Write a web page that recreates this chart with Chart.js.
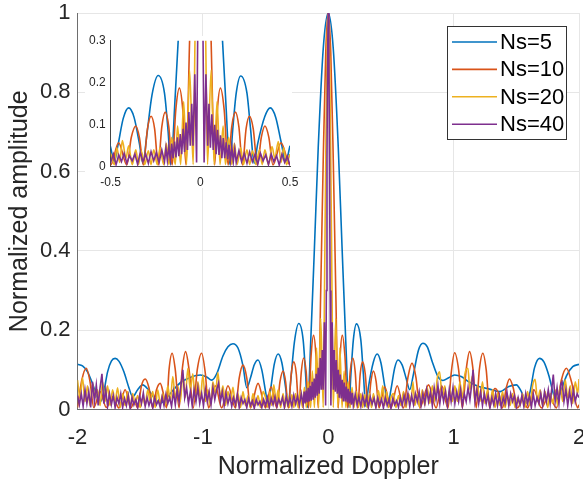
<!DOCTYPE html>
<html>
<head>
<meta charset="utf-8">
<script src="https://cdn.jsdelivr.net/npm/chart.js@4/dist/chart.umd.min.js"></script>
<style>
  body { margin: 0; background: #fff; }
  #wrap { position: relative; width: 583px; height: 487px; }
  #main { position: absolute; left: 0; top: 0; }
  #inset { position: absolute; left: 85px; top: 28px; }
</style>
</head>
<body>
<div id="wrap">
  <canvas id="main" width="583" height="487"></canvas>
  <canvas id="inset" width="222" height="160"></canvas>
</div>
<script>
// profiles, [normalized doppler, normalized amplitude]
const ns5 = [
  [-2.00,.114],[-1.96,.110],[-1.92,.095],[-1.88,.065],[-1.84,.030],[-1.815,.020],[-1.79,.045],[-1.76,.095],
  [-1.73,.122],[-1.70,.129],[-1.67,.122],[-1.63,.095],[-1.59,.055],[-1.56,.032],[-1.52,.050],[-1.48,.062],
  [-1.44,.052],[-1.39,.030],[-1.34,.016],[-1.30,.025],[-1.24,.048],[-1.17,.070],[-1.10,.081],[-1.02,.087],
  [-0.97,.082],[-0.93,.074],[-0.89,.090],[-0.84,.135],[-0.80,.158],[-0.76,.166],[-0.72,.155],[-0.68,.110],
  [-0.65,.055],[-0.62,.080],[-0.59,.113],[-0.56,.125],[-0.53,.100],[-0.50,.045],[-0.48,.012],[-0.46,.050],
  [-0.43,.115],[-0.40,.140],[-0.37,.118],[-0.34,.055],[-0.32,.008],[-0.30,.070],[-0.27,.170],[-0.235,.217],
  [-0.20,.175],[-0.18,.085],[-0.165,.005],[-0.14,.17],[-0.11,.41],[-0.08,.66],[-0.04,.91],[0,1],
  [0.04,.91],[0.08,.66],[0.11,.41],[0.14,.17],[0.165,.005],[0.18,.085],[0.20,.175],[0.225,.216],
  [0.26,.175],[0.28,.090],[0.30,.008],[0.32,.055],[0.36,.120],[0.39,.140],[0.42,.118],[0.45,.060],
  [0.476,.012],[0.50,.050],[0.53,.105],[0.556,.125],[0.59,.112],[0.62,.080],[0.65,.050],[0.68,.090],
  [0.72,.150],[0.755,.167],[0.79,.158],[0.83,.120],[0.875,.083],[0.915,.073],[0.96,.080],[1.008,.087],
  [1.06,.083],[1.12,.070],[1.20,.058],[1.28,.052],[1.37,.045],[1.44,.058],[1.50,.062],[1.54,.045],
  [1.58,.016],[1.61,.045],[1.645,.105],[1.685,.129],[1.72,.120],[1.76,.085],[1.80,.035],[1.82,.025],
  [1.86,.050],[1.90,.085],[1.95,.108],[2.00,.114]
];
const ns10 = [
  [-2.00,.005],[-1.965,.075],[-1.93,.104],[-1.90,.070],[-1.87,.005],[-1.82,.045],[-1.77,.005],[-1.72,.032],
  [-1.67,.004],[-1.62,.050],[-1.575,.004],[-1.545,.020],[-1.52,.004],[-1.49,.060],[-1.46,.077],[-1.43,.055],
  [-1.40,.004],[-1.37,.050],[-1.34,.066],[-1.315,.040],[-1.29,.004],[-1.27,.100],[-1.245,.142],[-1.22,.100],
  [-1.19,.004],[-1.165,.100],[-1.138,.146],[-1.11,.100],[-1.077,.004],[-1.045,.100],[-1.01,.142],[-0.98,.090],
  [-0.955,.004],[-0.90,.060],[-0.85,.004],[-0.80,.060],[-0.74,.004],[-0.71,.080],[-0.68,.112],[-0.65,.080],
  [-0.62,.004],[-0.56,.066],[-0.50,.004],[-0.456,.057],[-0.41,.004],[-0.385,.070],[-0.36,.097],[-0.34,.070],
  [-0.318,.004],[-0.295,.090],[-0.275,.120],[-0.255,.090],[-0.235,.004],[-0.215,.095],[-0.196,.130],[-0.176,.095],
  [-0.157,.004],[-0.137,.135],[-0.117,.187],[-0.098,.135],[-0.08,.004],[-0.06,.30],[-0.04,.63],[-0.02,.90],[0,1],
  [0.02,.90],[0.04,.63],[0.06,.30],[0.08,.004],[0.095,.135],[0.112,.187],[0.133,.135],[0.155,.004],
  [0.175,.095],[0.196,.130],[0.215,.095],[0.235,.004],[0.255,.090],[0.274,.120],[0.295,.090],[0.318,.004],
  [0.34,.070],[0.36,.097],[0.382,.070],[0.405,.004],[0.45,.057],[0.50,.004],[0.55,.060],[0.60,.004],
  [0.635,.080],[0.668,.117],[0.70,.080],[0.73,.004],[0.80,.062],[0.86,.004],[0.905,.060],[0.955,.004],
  [0.98,.090],[1.008,.143],[1.04,.100],[1.07,.004],[1.10,.100],[1.127,.146],[1.155,.100],[1.18,.004],
  [1.205,.100],[1.233,.142],[1.26,.100],[1.287,.004],[1.31,.040],[1.33,.053],[1.36,.040],[1.39,.004],
  [1.42,.055],[1.446,.077],[1.475,.055],[1.51,.004],[1.55,.025],[1.59,.004],[1.64,.050],[1.70,.004],
  [1.76,.035],[1.82,.004],[1.86,.075],[1.90,.104],[1.94,.070],[1.99,.004],[2.00,.012]
];
const ns20 = [
  [-2.00,.074],[-1.98,.030],[-1.96,.080],[-1.94,.020],[-1.92,.060],[-1.90,.010],[-1.88,.065],[-1.86,.030],
  [-1.84,.050],[-1.82,.010],[-1.80,.070],[-1.78,.020],[-1.76,.060],[-1.74,.010],[-1.72,.050],[-1.70,.020],
  [-1.68,.055],[-1.66,.005],[-1.64,.040],[-1.62,.010],[-1.60,.045],[-1.58,.005],[-1.56,.040],[-1.54,.015],
  [-1.52,.035],[-1.50,.005],[-1.48,.030],[-1.46,.010],[-1.44,.050],[-1.42,.020],[-1.40,.045],[-1.38,.005],
  [-1.36,.050],[-1.34,.015],[-1.32,.040],[-1.30,.010],[-1.28,.060],[-1.26,.020],[-1.24,.083],[-1.22,.030],
  [-1.20,.060],[-1.18,.020],[-1.16,.090],[-1.14,.030],[-1.12,.104],[-1.10,.050],[-1.08,.090],[-1.06,.020],
  [-1.04,.070],[-1.02,.030],[-1.00,.087],[-0.98,.020],[-0.96,.050],[-0.94,.010],[-0.92,.070],[-0.90,.040],
  [-0.88,.093],[-0.86,.030],[-0.84,.060],[-0.82,.010],[-0.80,.045],[-0.78,.020],[-0.76,.056],[-0.74,.010],
  [-0.72,.040],[-0.70,.005],[-0.68,.045],[-0.66,.010],[-0.64,.035],[-0.62,.005],[-0.60,.040],[-0.58,.010],
  [-0.56,.035],[-0.54,.005],[-0.52,.045],[-0.50,.030],[-0.48,.005],[-0.465,.045],[-0.45,.010],[-0.435,.062],
  [-0.415,.020],[-0.40,.050],[-0.38,.005],[-0.36,.040],[-0.345,.005],[-0.33,.038],[-0.31,.005],[-0.29,.038],
  [-0.275,.005],[-0.26,.040],[-0.24,.005],[-0.225,.045],[-0.205,.005],[-0.19,.056],[-0.175,.005],[-0.16,.070],
  [-0.14,.005],[-0.127,.097],[-0.11,.005],[-0.093,.155],[-0.077,.005],[-0.06,.230],[-0.04,.005],[-0.03,.30],
  [-0.02,.63],[-0.01,.90],[0,1],
  [0.01,.90],[0.02,.63],[0.03,.30],[0.04,.005],[0.06,.230],[0.077,.005],[0.093,.155],[0.11,.005],
  [0.127,.097],[0.14,.005],[0.158,.070],[0.175,.005],[0.19,.056],[0.205,.005],[0.225,.045],[0.24,.005],
  [0.26,.040],[0.275,.005],[0.29,.038],[0.31,.005],[0.33,.040],[0.345,.005],[0.36,.040],[0.38,.005],
  [0.40,.048],[0.415,.020],[0.435,.060],[0.45,.010],[0.465,.045],[0.48,.005],[0.50,.030],[0.52,.040],
  [0.54,.005],[0.56,.035],[0.58,.010],[0.60,.045],[0.62,.005],[0.64,.040],[0.66,.020],[0.676,.070],
  [0.69,.010],[0.71,.040],[0.73,.005],[0.75,.050],[0.77,.010],[0.79,.055],[0.81,.015],[0.83,.060],
  [0.85,.020],[0.87,.080],[0.888,.095],[0.91,.030],[0.93,.060],[0.95,.010],[0.97,.050],[0.99,.020],
  [1.01,.060],[1.03,.020],[1.05,.070],[1.07,.030],[1.09,.090],[1.114,.104],[1.13,.050],[1.15,.085],
  [1.17,.020],[1.19,.060],[1.21,.020],[1.23,.070],[1.25,.015],[1.27,.050],[1.29,.010],[1.31,.050],
  [1.33,.005],[1.35,.040],[1.37,.010],[1.39,.045],[1.41,.005],[1.43,.035],[1.45,.010],[1.47,.040],
  [1.49,.005],[1.51,.030],[1.53,.010],[1.55,.040],[1.57,.005],[1.59,.045],[1.61,.010],[1.63,.060],
  [1.65,.076],[1.67,.020],[1.69,.050],[1.71,.010],[1.73,.045],[1.75,.005],[1.77,.040],[1.79,.015],
  [1.81,.050],[1.83,.010],[1.85,.060],[1.87,.020],[1.89,.075],[1.91,.030],[1.93,.060],[1.95,.015],
  [1.97,.070],[1.99,.040],[2.00,.077]
];
const ns40 = [
  [-2.000,.035],[-1.985,.012],[-1.970,.040],[-1.955,.008],[-1.940,.050],[-1.925,.015],[-1.910,.045],[-1.895,.005],
  [-1.880,.070],[-1.865,.020],[-1.850,.062],[-1.835,.010],[-1.820,.055],[-1.805,.090],[-1.790,.015],[-1.775,.050],
  [-1.760,.008],[-1.745,.040],[-1.730,.012],[-1.715,.035],[-1.700,.005],[-1.685,.030],[-1.670,.015],[-1.655,.040],
  [-1.640,.005],[-1.625,.028],[-1.610,.010],[-1.595,.035],[-1.580,.002],[-1.565,.030],[-1.550,.012],[-1.535,.025],
  [-1.520,.005],[-1.505,.035],[-1.490,.015],[-1.475,.042],[-1.460,.008],[-1.445,.030],[-1.430,.010],[-1.415,.025],
  [-1.400,.004],[-1.385,.030],[-1.370,.012],[-1.355,.022],[-1.340,.005],[-1.325,.032],[-1.310,.010],[-1.295,.038],
  [-1.280,.015],[-1.265,.030],[-1.250,.008],[-1.235,.045],[-1.220,.012],[-1.205,.050],[-1.190,.020],[-1.175,.060],
  [-1.160,.100],[-1.145,.030],[-1.130,.055],[-1.115,.015],[-1.100,.045],[-1.085,.010],[-1.070,.050],[-1.055,.020],
  [-1.040,.055],[-1.025,.015],[-1.010,.040],[-0.995,.010],[-0.980,.050],[-0.965,.020],[-0.950,.045],[-0.935,.012],
  [-0.920,.055],[-0.905,.025],[-0.890,.050],[-0.875,.067],[-0.860,.020],[-0.845,.045],[-0.830,.010],[-0.815,.040],
  [-0.800,.015],[-0.785,.035],[-0.770,.008],[-0.755,.030],[-0.740,.012],[-0.725,.038],[-0.710,.005],[-0.695,.030],
  [-0.680,.015],[-0.665,.025],[-0.650,.005],[-0.635,.028],[-0.620,.010],[-0.605,.022],[-0.590,.003],[-0.575,.026],
  [-0.560,.012],[-0.545,.020],[-0.530,.005],[-0.515,.025],[-0.500,.010],[-0.485,.030],[-0.470,.005],[-0.455,.028],
  [-0.440,.012],[-0.425,.032],[-0.410,.008],[-0.395,.026],[-0.380,.014],[-0.365,.030],[-0.350,.006],[-0.335,.034],
  [-0.320,.012],[-0.305,.030],[-0.290,.008],[-0.275,.036],[-0.260,.014],[-0.245,.034],[-0.230,.010],[-0.215,.040],
  [-0.200,.012],[-0.192,.045],[-0.184,.015],[-0.176,.048],[-0.168,.018],[-0.160,.055],[-0.152,.020],[-0.144,.060],
  [-0.136,.022],[-0.128,.070],[-0.120,.025],[-0.112,.078],[-0.104,.030],[-0.096,.090],[-0.088,.035],[-0.080,.105],
  [-0.072,.040],[-0.064,.130],[-0.056,.050],[-0.048,.150],[-0.041,.050],[-0.031,.220],[-0.021,.010],[-0.015,.30],
  [-0.010,.63],[-0.005,.90],[0,1],
  [0.005,.90],[0.010,.63],[0.015,.30],[0.021,.010],[0.031,.220],[0.041,.050],[0.048,.150],[0.056,.045],
  [0.064,.125],[0.072,.040],[0.080,.100],[0.088,.030],[0.096,.088],[0.104,.028],[0.112,.075],[0.120,.020],
  [0.128,.068],[0.136,.020],[0.144,.058],[0.152,.018],[0.160,.052],[0.168,.015],[0.176,.046],[0.184,.012],
  [0.192,.042],[0.200,.010],[0.215,.038],[0.230,.012],[0.245,.032],[0.260,.008],[0.275,.035],[0.290,.012],
  [0.305,.030],[0.320,.006],[0.335,.032],[0.350,.014],[0.365,.028],[0.380,.005],[0.395,.030],[0.410,.012],
  [0.425,.026],[0.440,.004],[0.455,.030],[0.470,.010],[0.485,.025],[0.500,.003],[0.515,.028],[0.530,.012],
  [0.545,.022],[0.560,.006],[0.575,.030],[0.590,.010],[0.605,.035],[0.620,.015],[0.635,.040],[0.650,.008],
  [0.665,.035],[0.680,.012],[0.695,.040],[0.710,.020],[0.725,.045],[0.740,.010],[0.755,.040],[0.770,.015],
  [0.785,.050],[0.800,.020],[0.815,.045],[0.830,.010],[0.845,.055],[0.860,.025],[0.875,.060],[0.890,.015],
  [0.905,.050],[0.920,.020],[0.935,.045],[0.950,.010],[0.965,.050],[0.980,.020],[0.995,.055],[1.010,.015],
  [1.025,.045],[1.040,.020],[1.055,.050],[1.070,.010],[1.085,.040],[1.100,.020],[1.115,.055],[1.130,.025],
  [1.145,.065],[1.155,.100],[1.170,.020],[1.185,.050],[1.200,.015],[1.215,.045],[1.230,.010],[1.245,.040],
  [1.260,.015],[1.275,.035],[1.290,.005],[1.305,.030],[1.320,.012],[1.335,.040],[1.350,.010],[1.365,.035],
  [1.380,.005],[1.395,.030],[1.410,.015],[1.425,.045],[1.440,.010],[1.455,.040],[1.470,.020],[1.485,.035],
  [1.500,.005],[1.515,.030],[1.530,.012],[1.545,.035],[1.560,.008],[1.575,.040],[1.590,.015],[1.605,.035],
  [1.620,.005],[1.635,.040],[1.650,.010],[1.665,.030],[1.680,.015],[1.695,.040],[1.710,.010],[1.725,.045],
  [1.740,.020],[1.755,.050],[1.770,.015],[1.785,.060],[1.795,.088],[1.810,.020],[1.825,.055],[1.840,.015],
  [1.855,.065],[1.865,.070],[1.880,.020],[1.895,.050],[1.910,.010],[1.925,.045],[1.940,.015],[1.955,.050],
  [1.970,.020],[1.985,.040],[2.000,.030]
];

const seriesLabels = ['Ns=5', 'Ns=10', 'Ns=20', 'Ns=40'];
const seriesColors = ['#0072BD', '#D95319', '#EDB120', '#7E2F8E'];
const xTicks = [-2, -1, 0, 1, 2];
const yTicks = [0, 0.2, 0.4, 0.6, 0.8, 1];
const insetXTicks = [-0.5, 0, 0.5];
const insetYTicks = [0, 0.1, 0.2, 0.3];

const FONT = "'Liberation Sans', Arial, Helvetica, sans-serif";
const TEXT = '#262626';
Chart.defaults.font.family = FONT;
Chart.defaults.color = TEXT;

function makeDatasets() {
  return [ns5, ns10, ns20, ns40].map((pairs, i) => ({
    label: seriesLabels[i],
    data: pairs.map(([x, y]) => ({ x, y })),
    borderColor: seriesColors[i],
    borderWidth: 1.6,
    pointRadius: 0,
    fill: false,
    cubicInterpolationMode: i < 3 ? 'monotone' : 'default',
    tension: 0,
    order: 4 - i
  }));
}

const fixTicks = list => scale => { scale.ticks = list.map(v => ({ value: v })); };
const tickText = v => String(Math.round(v * 10) / 10);

// fixed axis boxes so the plot area lands where the figure has it
const fitX = h => s => { s.height = h; s.paddingLeft = 0; s.paddingRight = 0; };
const fitY = w => s => { s.width = w; s.paddingTop = 0; s.paddingBottom = 0; };

// MATLAB-like boxed legend in the top right corner
const legendBox = {
  id: 'legendBox',
  afterDraw(chart) {
    const ctx = chart.ctx;
    ctx.save();
    ctx.fillStyle = '#fff';
    ctx.fillRect(447.5, 26.5, 119, 113);
    ctx.strokeStyle = '#333';
    ctx.lineWidth = 1;
    ctx.strokeRect(447.5, 26.5, 119, 113);
    ctx.font = '22px ' + FONT;
    ctx.textBaseline = 'middle';
    seriesLabels.forEach((lab, i) => {
      const y = 42 + i * 27.4;
      ctx.strokeStyle = seriesColors[i];
      ctx.lineWidth = 1.6;
      ctx.beginPath();
      ctx.moveTo(452, y);
      ctx.lineTo(497, y);
      ctx.stroke();
      ctx.fillStyle = '#000';
      ctx.fillText(lab, 500, y + 1);
    });
    ctx.restore();
  }
};

new Chart(document.getElementById('main'), {
  type: 'line',
  data: { datasets: makeDatasets() },
  options: {
    responsive: false,
    animation: false,
    layout: { padding: { top: 13, right: 4, left: 0, bottom: 0 } },
    plugins: { legend: { display: false }, tooltip: { enabled: false } },
    scales: {
      x: {
        type: 'linear', min: -2, max: 2,
        afterBuildTicks: fixTicks(xTicks),
        afterFit: fitX(77.5),
        grid: { color: '#e6e6e6', drawTicks: false },
        border: { color: '#6e6e6e' },
        ticks: { font: { size: 22 }, padding: 15, color: TEXT, callback: tickText },
        title: { display: true, text: 'Normalized Doppler', font: { size: 25 }, color: TEXT, padding: { bottom: 5 } }
      },
      y: {
        min: 0, max: 1,
        afterBuildTicks: fixTicks(yTicks),
        afterFit: fitY(77.5),
        grid: { color: '#e6e6e6', drawTicks: false },
        border: { color: '#6e6e6e' },
        ticks: { font: { size: 22 }, padding: 7, color: TEXT, callback: tickText },
        title: { display: true, text: 'Normalized amplitude', font: { size: 25 }, color: TEXT, padding: { top: 5 } }
      }
    }
  },
  plugins: [legendBox]
});

// white panel behind the zoomed inset axes (tick labels may spill past it)
const insetPanel = {
  id: 'insetPanel',
  beforeDraw(chart) {
    const ctx = chart.ctx;
    ctx.save();
    ctx.fillStyle = '#fff';
    ctx.fillRect(0, 8, chart.chartArea.right + 2, chart.height - 8);
    ctx.restore();
  }
};

new Chart(document.getElementById('inset'), {
  type: 'line',
  data: { datasets: makeDatasets() },
  options: {
    responsive: false,
    animation: false,
    layout: { padding: { top: 12.7, right: 17, left: 0, bottom: 0 } },
    plugins: { legend: { display: false }, tooltip: { enabled: false } },
    scales: {
      x: {
        type: 'linear', min: -0.5, max: 0.5,
        afterBuildTicks: fixTicks(insetXTicks),
        afterFit: fitX(21.3),
        grid: { display: false, drawTicks: false },
        border: { color: '#444' },
        ticks: { font: { size: 12 }, padding: 9, color: TEXT, callback: tickText }
      },
      y: {
        min: 0, max: 0.3,
        afterBuildTicks: fixTicks(insetYTicks),
        afterFit: fitY(25.7),
        grid: { display: false, drawTicks: false },
        border: { color: '#444' },
        ticks: { font: { size: 12 }, padding: 5, color: TEXT, callback: tickText }
      }
    }
  },
  plugins: [insetPanel]
});
</script>
</body>
</html>
